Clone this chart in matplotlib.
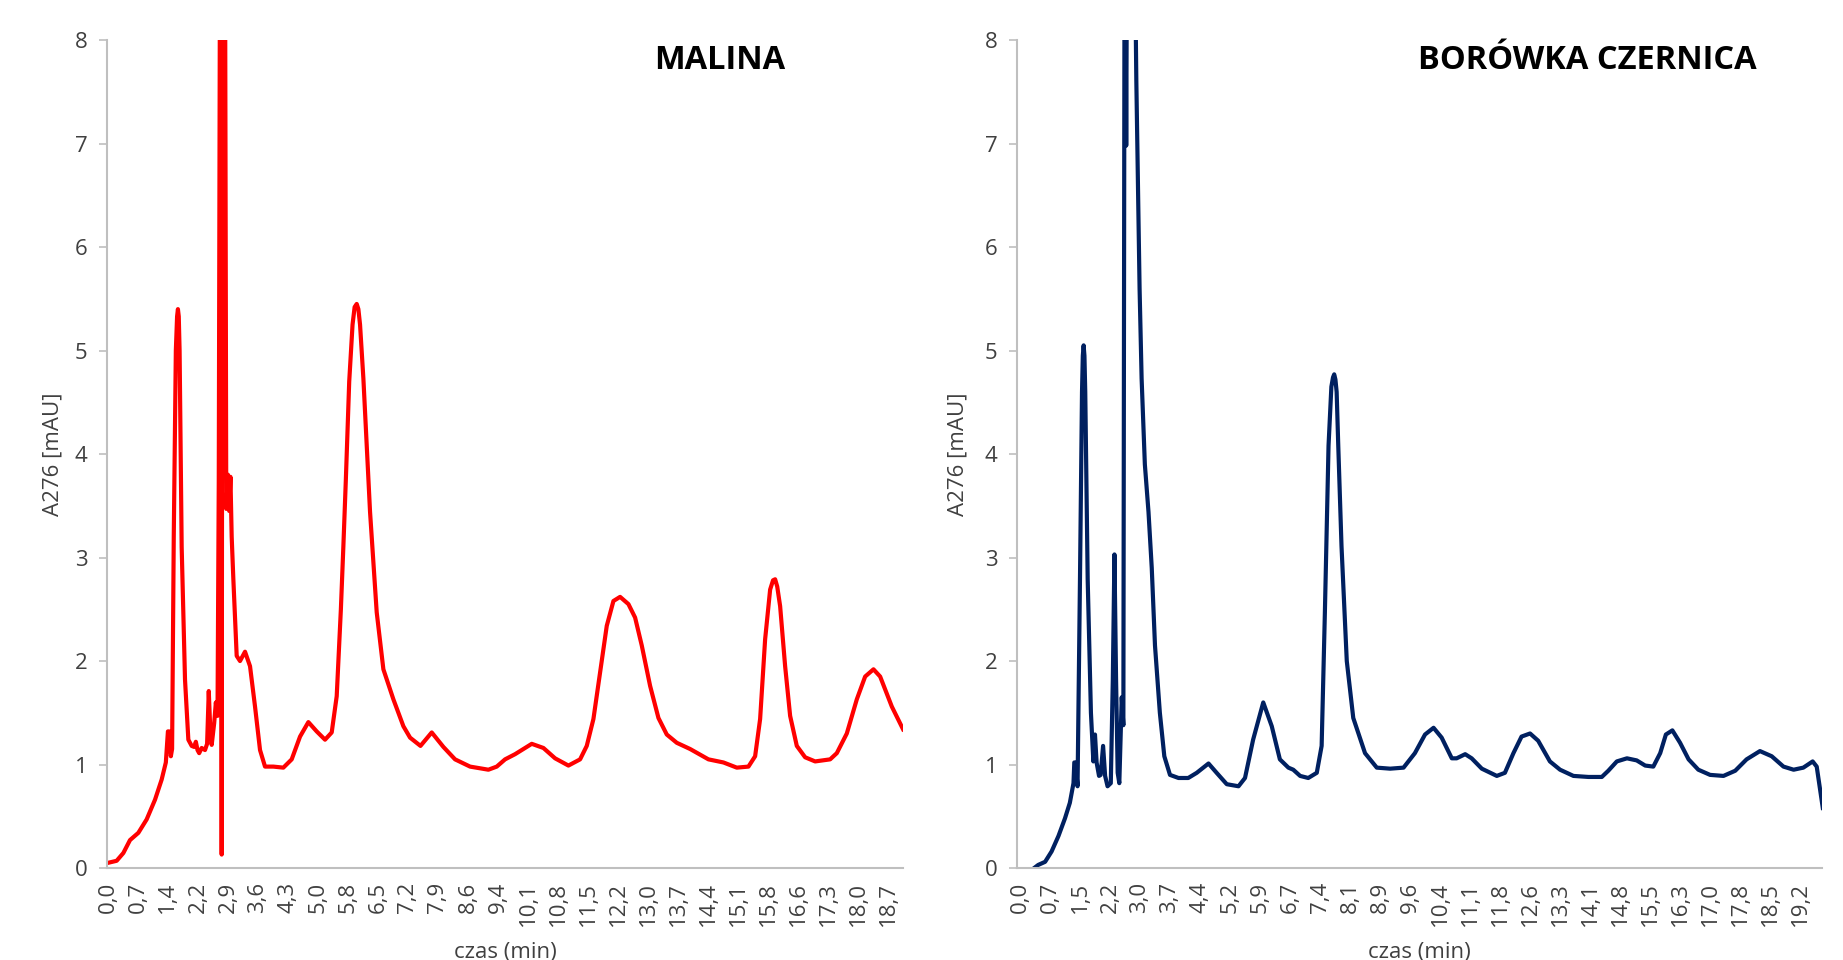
import matplotlib
matplotlib.use('Agg')
import matplotlib.pyplot as plt
import numpy as np

plt.rcParams['font.family'] = ['Open Sans', 'DejaVu Sans']

# MALINA - czas (min) i A276 (mAU)
malina_t = [0.00, 0.21, 0.37, 0.53, 0.73, 0.93, 1.13, 1.29, 1.39, 1.44,
            1.47, 1.51, 1.54, 1.58, 1.63, 1.66, 1.68, 1.70, 1.72, 1.77,
            1.85, 1.93, 2.01, 2.07, 2.11, 2.15, 2.19, 2.25, 2.33, 2.38,
            2.42, 2.45, 2.49, 2.55, 2.59, 2.63, 2.66, 2.69, 2.71, 2.73,
            2.75, 2.81, 2.84, 2.88, 2.91, 2.94, 2.97, 3.01, 3.09, 3.17,
            3.29, 3.41, 3.53, 3.65, 3.77, 3.97, 4.21, 4.41, 4.61, 4.81,
            5.01, 5.21, 5.37, 5.49, 5.59, 5.65, 5.71, 5.79, 5.87, 5.92,
            5.97, 6.01, 6.05, 6.13, 6.25, 6.29, 6.45, 6.61, 6.85, 7.09,
            7.25, 7.50, 7.77, 8.05, 8.33, 8.69, 9.13, 9.33, 9.53, 9.77,
            10.17, 10.45, 10.73, 11.05, 11.33, 11.49, 11.65, 11.81, 11.97, 12.13,
            12.29, 12.49, 12.65, 12.81, 13.01, 13.21, 13.41, 13.65, 13.97, 14.41,
            14.77, 15.09, 15.37, 15.53, 15.65, 15.77, 15.89, 15.96, 16.01, 16.06,
            16.13, 16.25, 16.37, 16.53, 16.73, 16.97, 17.33, 17.49, 17.73, 17.97,
            18.17, 18.37, 18.53, 18.81, 19.08]
malina_a = [0.05, 0.07, 0.145, 0.27, 0.34, 0.47, 0.66, 0.855, 1.02, 1.32,
            1.32, 1.08, 1.15, 3.2, 5.0, 5.33, 5.40, 5.33, 5.0, 3.1,
            1.82, 1.24, 1.18, 1.17, 1.22, 1.14, 1.11, 1.16, 1.14, 1.2,
            1.71, 1.4, 1.19, 1.40, 1.60, 1.47, 3.73, 9.0, 9.0, 0.13,
            9.0, 9.0, 3.47, 3.80, 3.45, 3.78, 3.2, 2.79, 2.05, 2.00,
            2.09, 1.95, 1.56, 1.14, 0.98, 0.98, 0.97, 1.05, 1.27, 1.41,
            1.32, 1.24, 1.31, 1.66, 2.5, 3.11, 3.76, 4.7, 5.25, 5.42,
            5.45, 5.40, 5.25, 4.73, 3.76, 3.44, 2.47, 1.92, 1.63, 1.37,
            1.26, 1.18, 1.31, 1.17, 1.05, 0.98, 0.95, 0.98, 1.05, 1.10,
            1.20, 1.16, 1.06, 0.99, 1.05, 1.18, 1.44, 1.89, 2.34, 2.58,
            2.62, 2.55, 2.42, 2.15, 1.76, 1.45, 1.29, 1.21, 1.15, 1.05,
            1.02, 0.97, 0.98, 1.08, 1.44, 2.21, 2.69, 2.78, 2.79, 2.72,
            2.53, 1.95, 1.47, 1.18, 1.07, 1.03, 1.05, 1.11, 1.30, 1.63,
            1.85, 1.92, 1.85, 1.56, 1.34]

# BORÓWKA CZERNICA
borowka_t = [0.35, 0.45, 0.62, 0.78, 0.95, 1.11, 1.23, 1.32, 1.34, 1.37,
             1.42, 1.48, 1.53, 1.55, 1.57, 1.59, 1.61, 1.67, 1.75, 1.81,
             1.85, 1.89, 1.95, 1.99, 2.05, 2.10, 2.16, 2.24, 2.29, 2.33,
             2.37, 2.41, 2.45, 2.49, 2.51, 2.55, 2.58, 2.60, 2.62, 2.64,
             2.83, 2.87, 2.95, 3.00, 3.08, 3.17, 3.25, 3.33, 3.45, 3.56,
             3.70, 3.91, 4.15, 4.36, 4.65, 4.85, 5.10, 5.39, 5.55, 5.75,
             6.00, 6.21, 6.41, 6.62, 6.74, 6.91, 7.11, 7.32, 7.44, 7.52,
             7.61, 7.68, 7.72, 7.75, 7.78, 7.81, 7.85, 7.93, 8.06, 8.22,
             8.51, 8.80, 9.13, 9.46, 9.74, 9.99, 10.20, 10.40, 10.65, 10.77,
             10.98, 11.14, 11.39, 11.76, 11.96, 12.17, 12.37, 12.58, 12.78, 13.07,
             13.32, 13.65, 14.02, 14.35, 14.51, 14.72, 14.97, 15.21, 15.42, 15.62,
             15.79, 15.93, 16.09, 16.28, 16.49, 16.73, 17.02, 17.35, 17.64, 17.92,
             18.25, 18.54, 18.83, 19.08, 19.32, 19.55, 19.65, 19.80]
borowka_a = [0.0, 0.03, 0.06, 0.16, 0.31, 0.48, 0.63, 0.82, 1.02, 1.02,
             0.79, 2.79, 4.6, 4.95, 5.05, 4.95, 4.6, 2.79, 1.50, 1.03,
             1.29, 1.02, 0.89, 0.90, 1.18, 0.89, 0.79, 0.82, 1.82, 3.03,
             1.82, 0.92, 0.82, 1.37, 1.65, 1.38, 9.0, 9.0, 6.98, 9.0,
             9.0, 7.6, 5.6, 4.73, 3.9, 3.44, 2.9, 2.15, 1.50, 1.08,
             0.90, 0.87, 0.87, 0.92, 1.01, 0.92, 0.81, 0.79, 0.87, 1.24,
             1.60, 1.37, 1.05, 0.97, 0.95, 0.89, 0.87, 0.92, 1.18, 2.47,
             4.08, 4.65, 4.74, 4.77, 4.72, 4.6, 4.08, 3.11, 2.0, 1.45,
             1.11, 0.97, 0.96, 0.97, 1.11, 1.29, 1.355, 1.26, 1.06, 1.06,
             1.10, 1.06, 0.96, 0.89, 0.92, 1.11, 1.27, 1.30, 1.23, 1.03,
             0.95, 0.89, 0.88, 0.88, 0.94, 1.03, 1.06, 1.04, 0.99, 0.98,
             1.11, 1.29, 1.33, 1.21, 1.05, 0.95, 0.90, 0.89, 0.94, 1.05,
             1.13, 1.08, 0.98, 0.95, 0.97, 1.03, 0.98, 0.58]

malina_labels = ['0,0', '0,7', '1,4', '2,2', '2,9', '3,6', '4,3', '5,0', '5,8',
                 '6,5', '7,2', '7,9', '8,6', '9,4', '10,1', '10,8', '11,5', '12,2',
                 '13,0', '13,7', '14,4', '15,1', '15,8', '16,6', '17,3', '18,0', '18,7']
borowka_labels = ['0,0', '0,7', '1,5', '2,2', '3,0', '3,7', '4,4', '5,2', '5,9',
                  '6,7', '7,4', '8,1', '8,9', '9,6', '10,4', '11,1', '11,8', '12,6',
                  '13,3', '14,1', '14,8', '15,5', '16,3', '17,0', '17,8', '18,5', '19,2']


def draw(ax, t, a, color, labels, step, xmin, xmax, title, title_x, ylab_x):
    ax.plot(t, a, color=color, lw=3.0, solid_joinstyle='round')
    ax.set_xlim(xmin, xmax)
    ax.set_ylim(0, 8)
    ax.set_yticks(range(0, 9))
    ax.set_xticks(np.arange(len(labels)) * step)
    ax.set_xticklabels(labels, rotation=90)
    ax.tick_params(axis='x', length=0, pad=10, labelsize=16, labelcolor='#404040')
    ax.tick_params(axis='y', length=6, width=1.2, color='#bfbfbf', pad=8,
                   labelsize=16, labelcolor='#404040')
    for s in ['top', 'right']:
        ax.spines[s].set_visible(False)
    for s in ['left', 'bottom']:
        ax.spines[s].set_color('#bfbfbf')
        ax.spines[s].set_linewidth(1.5)
    ax.set_ylabel('A276 [mAU]', fontsize=16, color='#404040')
    ax.yaxis.label.set_va('center')
    ax.yaxis.set_label_coords(ylab_x, 0.5)
    ax.set_xlabel('czas (min)', fontsize=16, color='#404040')
    ax.xaxis.label.set_va('top')
    ax.xaxis.set_label_coords(0.5, -0.089)
    ax.text(title_x, 0.975, title, transform=ax.transAxes, fontsize=23.5,
            fontweight='bold', ha='center', va='center', color='black')


fig = plt.figure(figsize=(18.43, 9.6), dpi=100)
ax1 = fig.add_axes([0.0581, 0.0958, 0.4319, 0.8625])
ax2 = fig.add_axes([0.5518, 0.0958, 0.4368, 0.8625])

draw(ax1, malina_t, malina_a, '#ff0000', malina_labels, 0.72, -0.02, 19.08,
     'MALINA', 0.770, -0.068)
draw(ax2, borowka_t, borowka_a, '#002060', borowka_labels, 0.74, -0.074, 19.78,
     'BORÓWKA CZERNICA', 0.709, -0.073)

plt.savefig('out.png', dpi=100)
